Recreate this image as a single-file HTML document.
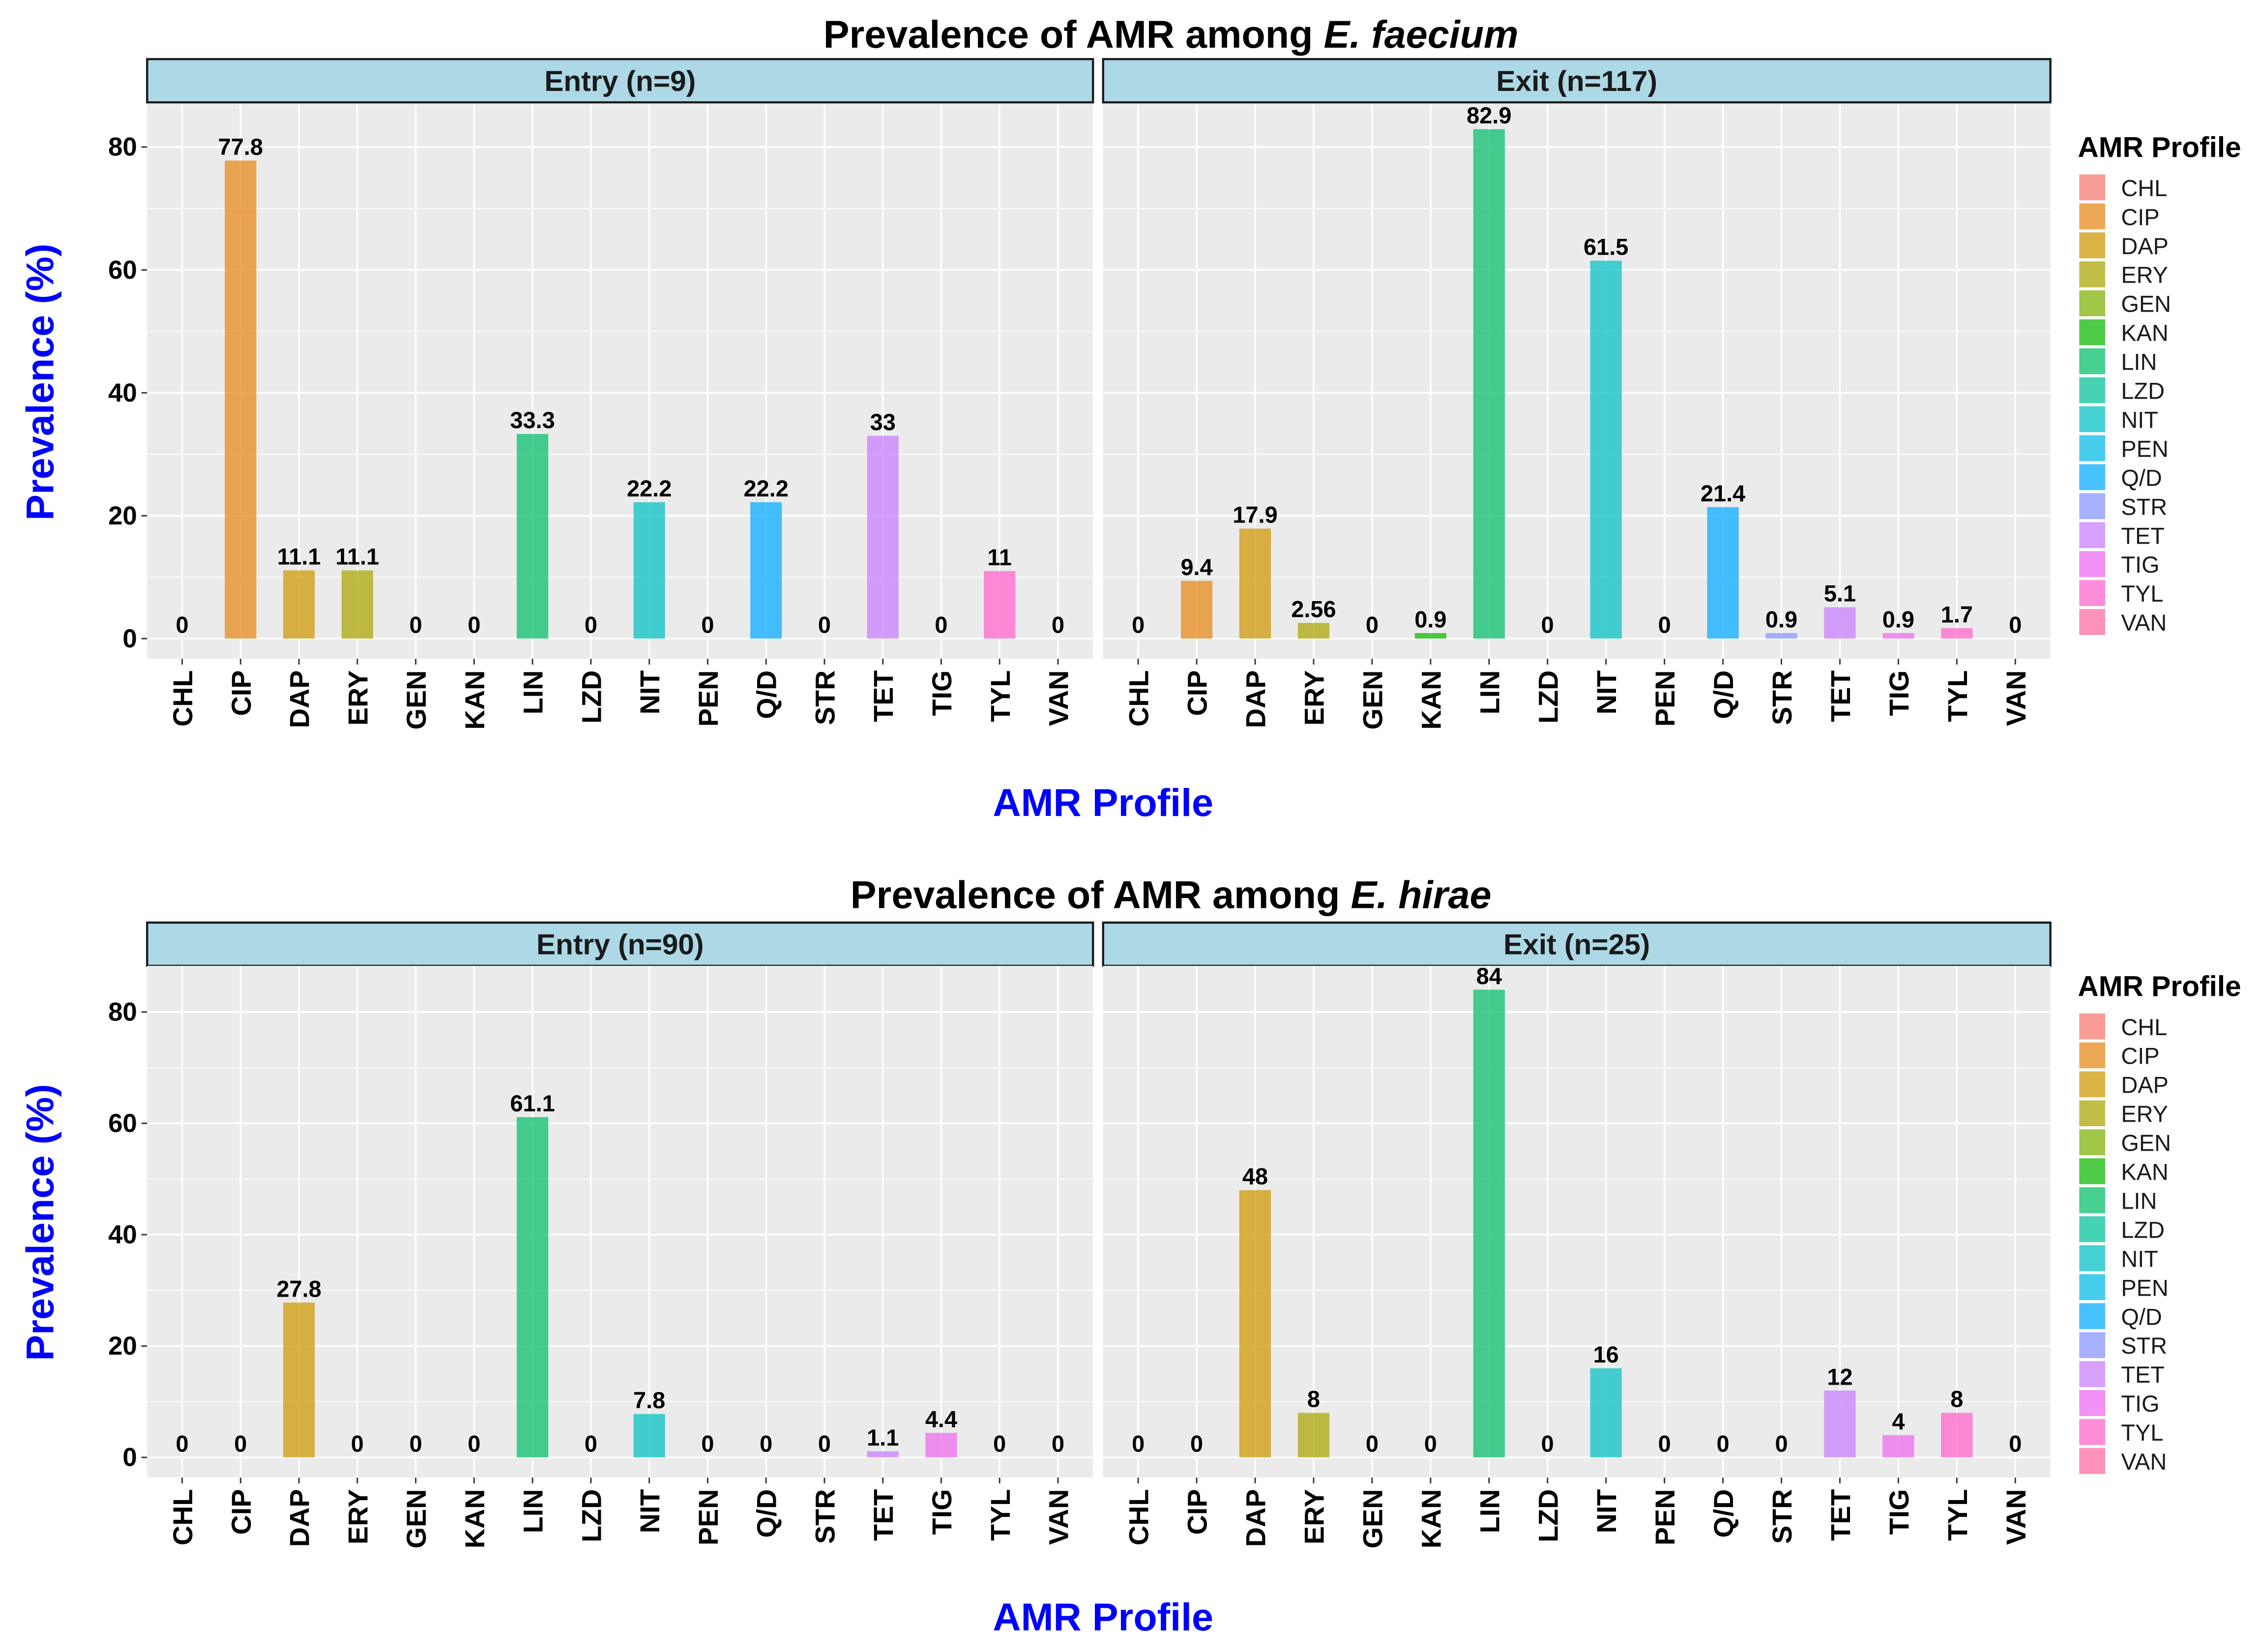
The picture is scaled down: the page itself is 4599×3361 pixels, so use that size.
<!DOCTYPE html>
<html><head><meta charset="utf-8"><style>
html,body{margin:0;padding:0;background:#fff}
svg{display:block}
text{font-family:"Liberation Sans Narrow","Liberation Sans",sans-serif}
</style></head><body>
<svg id="chart" xmlns="http://www.w3.org/2000/svg" width="4599" height="3361" viewBox="0 0 1568 1146"></svg>
<script>
const categories = ["CHL","CIP","DAP","ERY","GEN","KAN","LIN","LZD","NIT","PEN","Q/D","STR","TET","TIG","TYL","VAN"];
const faeciumEntry = [0,77.8,11.1,11.1,0,0,33.3,0,22.2,0,22.2,0,33,0,11,0];
const faeciumEntryLabels = ["0","77.8","11.1","11.1","0","0","33.3","0","22.2","0","22.2","0","33","0","11","0"];
const faeciumExit = [0,9.4,17.9,2.56,0,0.9,82.9,0,61.5,0,21.4,0.9,5.1,0.9,1.7,0];
const faeciumExitLabels = ["0","9.4","17.9","2.56","0","0.9","82.9","0","61.5","0","21.4","0.9","5.1","0.9","1.7","0"];
const hiraeEntry = [0,0,27.8,0,0,0,61.1,0,7.8,0,0,0,1.1,4.4,0,0];
const hiraeEntryLabels = ["0","0","27.8","0","0","0","61.1","0","7.8","0","0","0","1.1","4.4","0","0"];
const hiraeExit = [0,0,48,8,0,0,84,0,16,0,0,0,12,4,8,0];
const hiraeExitLabels = ["0","0","48","8","0","0","84","0","16","0","0","0","12","4","8","0"];
const yTicks = [0,20,40,60,80];
const yMinor = [10,30,50,70];
const colors = ["#F8766D","#E68613","#CD9600","#ABA300","#7CAE00","#0CB702","#00BE67","#00C19A","#00BFC4","#00B8E7","#00A9FF","#8494FF","#C77CFF","#ED68ED","#FF61CC","#FF68A1"];

const NS="http://www.w3.org/2000/svg";
const svg=document.getElementById('chart');
function mk(tag,attrs,parent,txt){const e=document.createElementNS(NS,tag);for(const k in attrs)e.setAttribute(k,attrs[k]);if(txt!==undefined)e.textContent=txt;(parent||svg).appendChild(e);return e;}

function figure(cfg){
  const g=mk('g',{});
  
  
  const t=mk('text',{x:812,y:cfg.titleY,'text-anchor':'middle','font-size':27,'font-weight':'bold',fill:'#000'},g);
  
  
  t.appendChild(document.createTextNode('Prevalence of AMR among '));
  mk('tspan',{'font-style':'italic'},t,cfg.species);
  const yS=v=>cfg.y0-v*cfg.k;
  const panels=[{x0:102,x1:758,label:cfg.l1,vals:cfg.v1,labs:cfg.lab1,n:'entry'},{x0:765,x1:1422,label:cfg.l2,vals:cfg.v2,labs:cfg.lab2,n:'exit'}];
  panels.forEach((p,pi)=>{
    const pg=mk('g',{},g);
    
    
    const strip=mk('rect',{x:p.x0,y:cfg.stripY,width:p.x1-p.x0,height:30,fill:'#ADD8E6',stroke:'#1a1a1a','stroke-width':1.5},pg);
    
    
    const st=mk('text',{x:(p.x0+p.x1)/2,y:cfg.stripY+22,'text-anchor':'middle','font-size':20,'font-weight':'bold',fill:'#1a1a1a'},pg,p.label);
    
    
    const bg=mk('rect',{x:p.x0,y:cfg.pTop,width:p.x1-p.x0,height:cfg.pBot-cfg.pTop,fill:'#EBEBEB'},pg);
    
    
    const step=(p.x1-p.x0)/16.2;
    const xS=i=>p.x0+step*(0.6+i);
    yMinor.forEach(v=>{const l=mk('line',{x1:p.x0,x2:p.x1,y1:yS(v),y2:yS(v),stroke:'#fff','stroke-width':0.6},pg);});
    yTicks.forEach(v=>{const l=mk('line',{x1:p.x0,x2:p.x1,y1:yS(v),y2:yS(v),stroke:'#fff','stroke-width':1.2},pg);});
    categories.forEach((c,i)=>{
      const l=mk('line',{x1:xS(i),x2:xS(i),y1:cfg.pTop,y2:cfg.pBot,stroke:'#fff','stroke-width':1.2},pg);
      
      
      const v=p.vals[i];
      const bw=step*0.54;
      if(v>0){
        const b=mk('rect',{x:xS(i)-bw/2,y:yS(v),width:bw,height:yS(0)-yS(v),fill:colors[i],'fill-opacity':0.72},pg);
        
        
      }
      const vl=mk('text',{x:xS(i),y:yS(v)-4,'text-anchor':'middle','font-size':16,'font-weight':'bold',fill:'#000'},pg,p.labs[i]);
      
      
      const tk=mk('line',{x1:xS(i),x2:xS(i),y1:cfg.pBot,y2:cfg.pBot+4,stroke:'#333','stroke-width':1},pg);
      
      
      const xl=mk('text',{x:0,y:0,'text-anchor':'end','font-size':19,'font-weight':'bold',fill:'#000',transform:`translate(${xS(i)+7},${cfg.pBot+8}) rotate(-90)`,style:'font-family:"Liberation Sans",sans-serif'},pg,c);
      
      
    });
    if(pi===0){
      yTicks.forEach(v=>{
        const tl=mk('text',{x:95,y:yS(v)+6,'text-anchor':'end','font-size':18,'font-weight':'bold',fill:'#000'},pg,String(v));
        
        
        const tk=mk('line',{x1:98,x2:102,y1:yS(v),y2:yS(v),stroke:'#333','stroke-width':1},pg);
        
        
      });
    }
  });
  const xt=mk('text',{x:765,y:cfg.xTitleY,'text-anchor':'middle','font-size':27,'font-weight':'bold',fill:'#0000FF'},g,'AMR Profile');
  
  
  const yt=mk('text',{x:0,y:0,'text-anchor':'middle','font-size':27,'font-weight':'bold',fill:'#0000FF',transform:`translate(37,${cfg.yTitleC}) rotate(-90)`,style:'font-family:"Liberation Sans",sans-serif'},g,'Prevalence (%)');
  
  
  const lg=mk('g',{},g);
  
  
  const lt=mk('text',{x:1441,y:cfg.legY,'font-size':20,'font-weight':'bold',fill:'#000'},lg,'AMR Profile');
  
  
  categories.forEach((c,i)=>{
    const ky=cfg.legY+12+i*20.1;
    const r=mk('rect',{x:1442,y:ky,width:18,height:18,fill:colors[i],'fill-opacity':0.72},lg);
    
    
    const tx=mk('text',{x:1471,y:ky+15,'font-size':16,fill:'#1a1a1a'},lg,c);
    
    
  });
}
figure({name:'faecium-chart',species:'E. faecium',titleY:33,stripY:41,pTop:72,pBot:457,y0:443,k:4.2625,l1:'Entry (n=9)',l2:'Exit (n=117)',v1:faeciumEntry,lab1:faeciumEntryLabels,v2:faeciumExit,lab2:faeciumExitLabels,xTitleY:566,yTitleC:265,legY:109});
figure({name:'hirae-chart',species:'E. hirae',titleY:630,stripY:640,pTop:670,pBot:1025,y0:1011,k:3.8625,l1:'Entry (n=90)',l2:'Exit (n=25)',v1:hiraeEntry,lab1:hiraeEntryLabels,v2:hiraeExit,lab2:hiraeExitLabels,xTitleY:1131,yTitleC:848,legY:691});
</script>
</body></html>
